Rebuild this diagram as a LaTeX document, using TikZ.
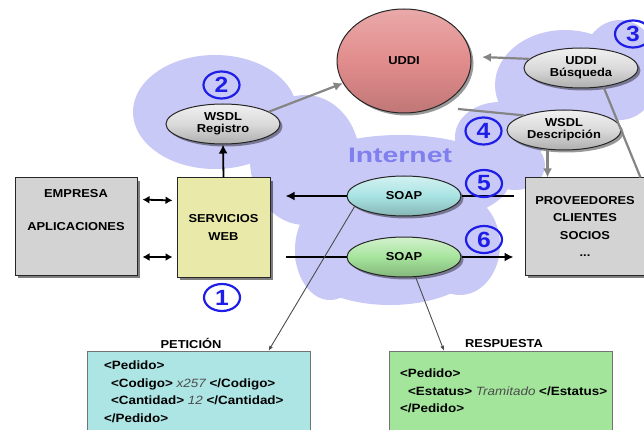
\documentclass[tikz,border=0pt]{standalone}
\usepackage{fontspec}
\setmainfont{Liberation Sans}[FakeStretch=1.12]
\newfontfamily\inetfont{Liberation Sans}[FakeStretch=1.35]
\usetikzlibrary{positioning,shapes.geometric,arrows.meta,shadows}

\definecolor{cloudblue}{HTML}{C9C9F7}
\definecolor{boxgray}{HTML}{D3D3D3}
\definecolor{servyellow}{HTML}{E9E9A9}
\definecolor{uddipink}{HTML}{E28C8C}
\definecolor{ballgray}{HTML}{DADADA}
\definecolor{soapcyan}{HTML}{A8E3E3}
\definecolor{soapgreen}{HTML}{A6E49C}
\definecolor{numblue}{HTML}{1E1EE6}
\definecolor{inetblue}{HTML}{7F7FEE}
\definecolor{petcyan}{HTML}{ADE5E5}
\definecolor{respgreen}{HTML}{A3E69B}

\begin{document}
\begin{tikzpicture}[x=1pt, y=-1pt]
    \tikzstyle{box}=[draw=black!85, line width=1pt, minimum width=122pt, minimum height=97pt, align=center, font=\bfseries\fontsize{11.5}{17.5}\selectfont, drop shadow={shadow xshift=3pt, shadow yshift=-3pt, fill=black, opacity=0.5}];
    \tikzstyle{boxtext}=[font=\bfseries\fontsize{11.5}{17.5}\selectfont, inner sep=0pt];
    \tikzstyle{ball}=[ellipse, draw=black!85, line width=1pt, minimum width=114pt, minimum height=40pt, inner sep=0pt, align=center, font=\bfseries\fontsize{11.5}{12}\selectfont, drop shadow={shadow xshift=2.5pt, shadow yshift=-2.5pt, fill=black, opacity=0.4}];
    \tikzstyle{stepnum}=[ellipse, draw=numblue, line width=2.2pt, minimum width=36pt, minimum height=27pt, inner sep=0pt, text=numblue, font=\bfseries\fontsize{22}{22}\selectfont];
    \tikzstyle{flow}=[line width=1.8pt, -{Latex[length=9pt, width=9pt]}];
    \tikzstyle{both}=[line width=1.8pt, {Latex[length=7pt, width=8pt]}-{Latex[length=7pt, width=8pt]}];
    \tikzstyle{gray arrow}=[draw=black!48, line width=2.2pt, -{Latex[length=9pt, width=9pt]}];
    \tikzstyle{gray line}=[draw=black!48, line width=2.2pt];
    \tikzstyle{thin arrow}=[draw=black!70, line width=0.9pt, -{Latex[length=5pt, width=4pt]}];
    \tikzstyle{codebox}=[draw=black!55, minimum width=223pt, minimum height=100pt];
    \tikzstyle{code}=[align=left, inner sep=0pt, font=\bfseries\fontsize{12}{17.5}\selectfont];
    \newcommand*{\codeValue}[1]{{\mdseries\itshape\color{black!70}#1}}

    \useasboundingbox (0,0) rectangle (644,430);
    \clip (0,0) rectangle (644,430);
    \fill[white] (0,0) rectangle (644,430);

    % internet cloud
    \foreach \cx/\cy/\rx/\ry in {215/112/82/57, 305/160/55/65, 400/180/110/45, 390/255/95/50, 330/250/35/50,
                                 460/245/40/50, 500/137/45/35, 515/165/30/25, 565/85/70/55, 620/70/40/50} {
      \fill[cloudblue] (\cx,\cy) ellipse [x radius=\rx, y radius=\ry];
    }
    \node[text=inetblue, font=\inetfont\bfseries\fontsize{21}{21}\selectfont] (inet) at (400,155) {Internet};

    % boxes
    \node[box, fill=boxgray] (emp) at (76,226.5) {};
    \node[boxtext, below=12pt of emp.north] (empname) {EMPRESA};
    \node[boxtext, below=24pt of empname.south] (empapp) {APLICACIONES};
    \node[box, fill=servyellow, minimum width=93pt, minimum height=99pt] (serv) at (223.5,227.5) {SERVICIOS\\WEB};
    \node[box, fill=boxgray, minimum width=120pt] (prov) at (585,226.5) {PROVEEDORES\\CLIENTES\\SOCIOS\\...};

    % registry
    \node[ellipse, draw=black!85, line width=1pt, minimum width=134pt, minimum height=104pt, top color=uddipink!75!white, bottom color=uddipink!85!black, middle color=uddipink, font=\bfseries\fontsize{11.5}{12}\selectfont, drop shadow={shadow xshift=2.5pt, shadow yshift=-2.5pt, fill=black, opacity=0.4}] (uddi) at (404,61) {UDDI};
    \node[ball, top color=ballgray!40!white, bottom color=ballgray!80!black, middle color=ballgray] (busq) at (581,68) {UDDI\\Búsqueda};
    \node[ball, top color=ballgray!40!white, bottom color=ballgray!80!black, middle color=ballgray] (desc) at (564,130) {WSDL\\Descripción};
    \node[ball, top color=ballgray!40!white, bottom color=ballgray!80!black, middle color=ballgray] (reg) at (223,124) {WSDL\\Registro};
    \node[ball, top color=soapcyan!50!white, bottom color=soapcyan!80!black, middle color=soapcyan] (soapA) at (404,196) {SOAP};
    \node[ball, top color=soapgreen!50!white, bottom color=soapgreen!80!black, middle color=soapgreen] (soapB) at (404,257) {SOAP};

    \coordinate (uddiin) at (482,57);
    \coordinate (uddiout) at (458,109);

    \draw[gray arrow] (reg.15) -- (uddi.200);
    \draw[gray arrow] (busq.170) -- (uddiin);
    \draw[gray line] (uddiout) -- (desc.160);
    \draw[gray arrow] (desc.-130) -- (desc.-130 |- prov.north);
    \draw[gray line] (busq.-40) -- ([xshift=-5pt]prov.north east);

    \draw[flow] (serv.north) -- (reg.south);
    \draw[both, shorten <=5pt, shorten >=4pt] ([yshift=27pt]emp.east) -- ([yshift=27pt]serv.west);
    \draw[both, shorten <=5pt, shorten >=4pt] (emp.east |- soapB) -- (serv.west |- soapB);
    \draw[line width=1.8pt, shorten <=11pt] (prov.west |- soapA) -- (soapA.east);
    \draw[flow, shorten >=15pt] (soapA.west) -- (serv.east |- soapA);
    \draw[line width=1.8pt, shorten <=15pt] (serv.east |- soapB) -- (soapB.west);
    \draw[flow, shorten >=11pt] (soapB.east) -- (prov.west |- soapB);

    % numbers
    \foreach \n/\cx/\cy in {1/222/297.5, 2/221.5/85, 3/633/34, 4/483.5/131, 5/484/183.5, 6/484/239.5} {
      \node[stepnum] (num\n) at (\cx,\cy) {\n};
    }

    % messages
    \node[codebox, fill=petcyan] (pet) at (198.5,401) {};
    \node[boxtext] (pettitle) at (191,343) {PETICIÓN};
    \node[code, below right=10pt and 17pt of pet.north west] (petcode) {<Pedido>\\
      \hspace*{7pt}<Codigo> \codeValue{x257} </Codigo>\\
      \hspace*{7pt}<Cantidad> \codeValue{12} </Cantidad>\\
      </Pedido>};
    \node[codebox, fill=respgreen] (resp) at (500.5,401) {};
    \node[boxtext] (resptitle) at (504,344) {RESPUESTA};
    \node[code, below right=18pt and 11pt of resp.north west] (respcode) {<Pedido>\\
      \hspace*{8pt}<Estatus> \codeValue{Tramitado} </Estatus>\\
      </Pedido>};

    \draw[thin arrow] (soapA.-168) -- ([xshift=70pt]pet.north);
    \draw[thin arrow] (soapB.-60) -- ([xshift=-56.5pt]resp.north);
\end{tikzpicture}
\end{document}
